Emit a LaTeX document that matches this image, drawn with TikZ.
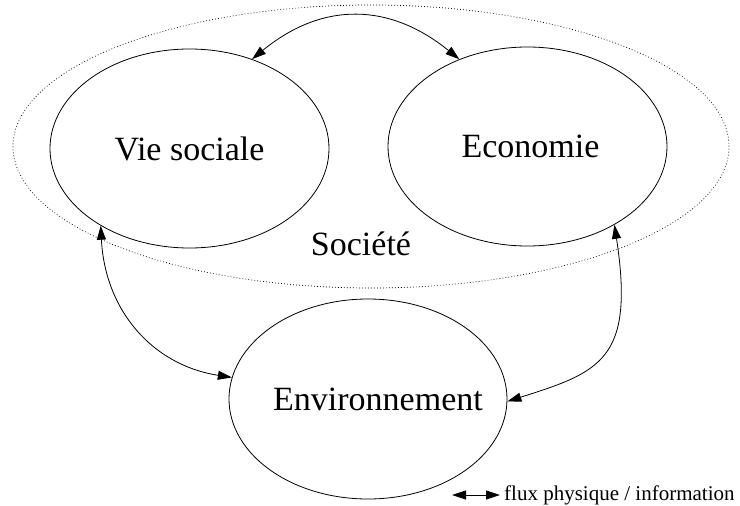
\documentclass[tikz,border=0pt]{standalone}
\usepackage{fontspec}
\setmainfont{Liberation Serif}
\usetikzlibrary{shapes.geometric,arrows.meta}
\begin{document}
\begin{tikzpicture}[x=1pt,y=-1pt,
  blob/.style={draw,ellipse,line width=0.8pt,inner sep=0pt,minimum width=279pt,minimum height=199pt,font=\fontsize{34}{40}\selectfont},
  society/.style={draw,ellipse,dash pattern=on 0.8pt off 2.2pt,line width=0.7pt,minimum width=716pt,minimum height=283pt,inner sep=0pt},
  tip/.tip={Triangle[length=14pt,width=9pt]},
  flow/.style={tip-tip,line width=0.8pt},
  biglabel/.style={font=\fontsize{34}{40}\selectfont,inner sep=0pt},
  smalllabel/.style={font=\fontsize{21}{25}\selectfont,inner xsep=4pt,inner ysep=0pt}
]
\useasboundingbox (0,0) rectangle (740,506);
\node[society] (soc) at (371,146.5) {};
\node[blob] (vs) at (189.5,148.5) {Vie sociale};
\node[blob] (ec) at (527.5,146.5) {\hspace*{6pt}Economie};
\node[blob,minimum width=278pt,minimum height=200pt] (env) at (368,399) {\makebox[0pt][c]{\hspace*{20pt}Environnement}};
\node[biglabel,anchor=base] (soclabel) at (361,255) {Société};

\draw[flow] (vs.55) .. controls (323,1) and (390,3) .. (ec.128);
\draw[flow] (vs.221) .. controls (105,310) and (152,365) .. (env.171);
\draw[flow] (ec.318) .. controls (635,360) and (600,372) .. (env.-1);

\coordinate (la) at (452,495);
\node[smalllabel,anchor=base west] (leg) at (500,500) {flux physique / information};
\draw[flow] (la) -- (leg.west |- la);
\end{tikzpicture}
\end{document}
